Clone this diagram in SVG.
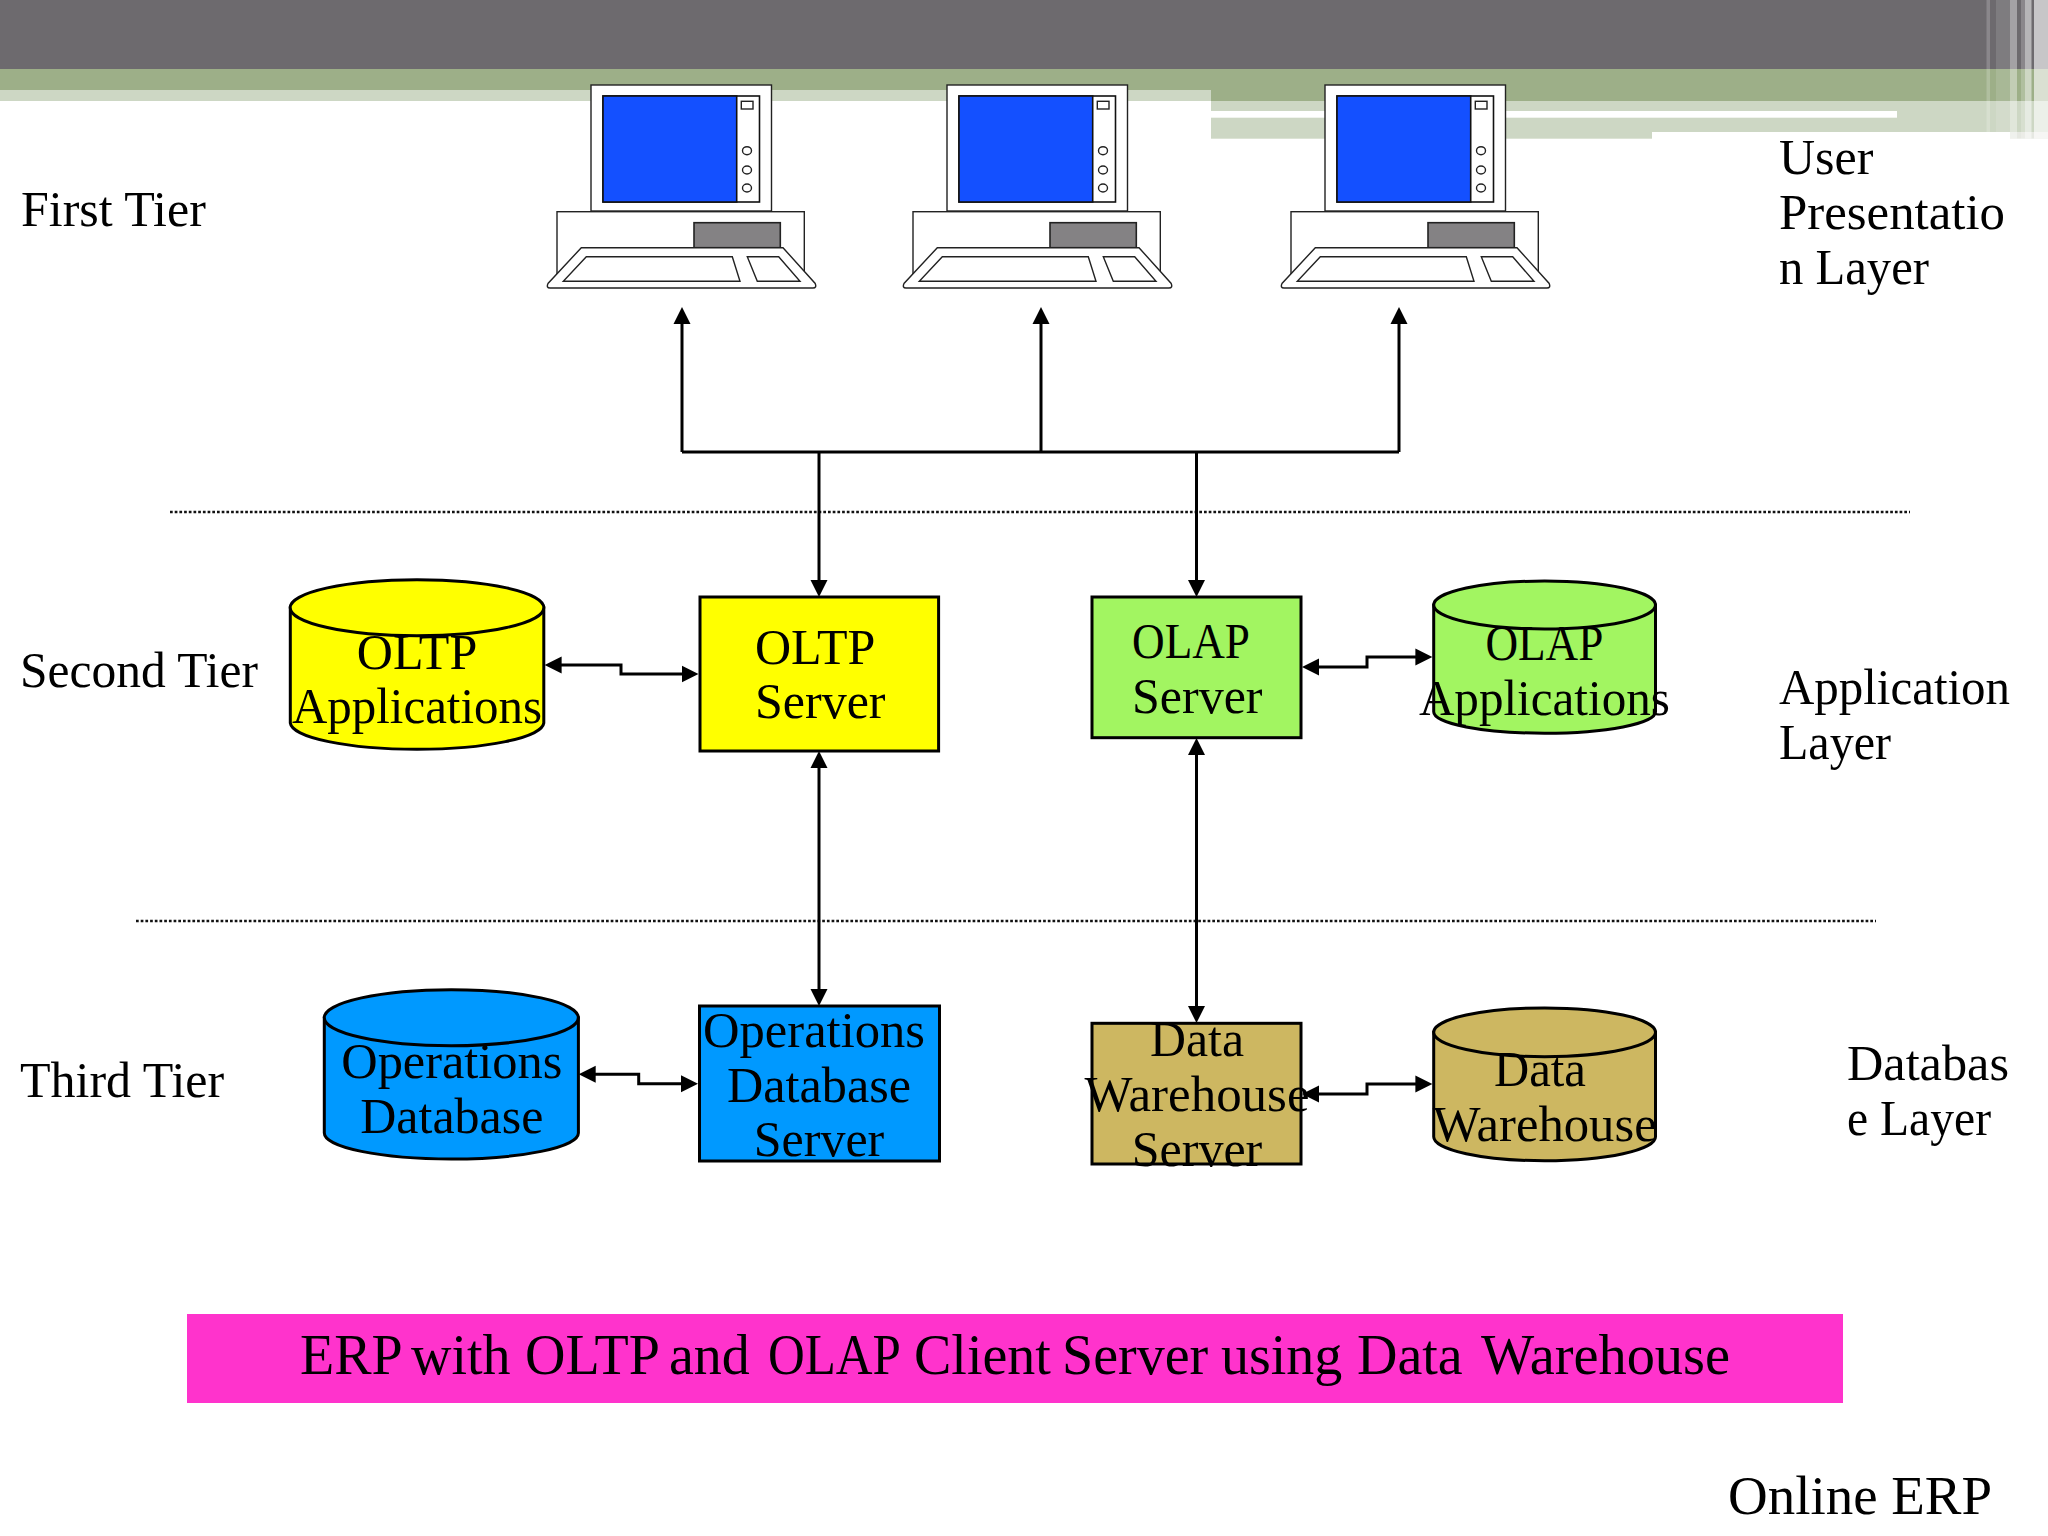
<svg xmlns="http://www.w3.org/2000/svg" xmlns:xlink="http://www.w3.org/1999/xlink" width="2048" height="1536" viewBox="0 0 2048 1536">
<style>
text{font-family:"Liberation Serif","Times New Roman",serif;font-size:50px;fill:#000}
.c{text-anchor:middle}
.box,.cyl{stroke:#000;stroke-width:3}
.pc{fill:#fff;stroke:#222;stroke-width:1.4}
.conn{fill:none;stroke:#000;stroke-width:3;marker-end:url(#ah)}
.two{marker-start:url(#ah)}
.plain{fill:none;stroke:#000;stroke-width:3}
.dots{stroke:#111;stroke-width:2.7;stroke-dasharray:2.7 2;fill:none}
.y{fill:#ffff00}.g{fill:#a2f561}.b{fill:#0099ff}.t{fill:#cdb761}
</style>
<defs>
<marker id="ah" markerUnits="userSpaceOnUse" markerWidth="18" markerHeight="18" refX="8" refY="9" orient="auto-start-reverse" viewBox="0 0 18 18"><path d="M0 0.5L17 9L0 17.5Z" fill="#000"/></marker>
<g id="computer">
<rect class="pc" x="0" y="0" width="180.5" height="126"/>
<rect x="12" y="11" width="156.5" height="106" fill="#fff" stroke="#111" stroke-width="1.6"/>
<rect x="12" y="11" width="133.7" height="106" fill="#1450ff" stroke="#111" stroke-width="1.6"/>
<rect class="pc" x="150.3" y="16.3" width="11.7" height="7.7"/>
<ellipse class="pc" cx="156" cy="65.7" rx="4.5" ry="4"/>
<ellipse class="pc" cx="156" cy="85" rx="4.5" ry="4"/>
<ellipse class="pc" cx="156" cy="103" rx="4.5" ry="4"/>
<rect class="pc" x="-34" y="126.7" width="247.3" height="62"/>
<rect x="103" y="137.7" width="86.3" height="25" fill="#848284" stroke="#222" stroke-width="1.6"/>
<path class="pc" d="M-9.7 162.7H192L224.2 198.5Q226 203 222 203H-41Q-45 203 -43 198.5Z"/>
<path class="pc" d="M-4.7 171.7H141.3L149 196.3H-27.7Z"/>
<path class="pc" d="M156.3 171.7H187.7L209 196.3H166.3Z"/>
</g>
</defs>
<rect width="2048" height="1536" fill="#fff"/>
<g id="header">
<rect width="2048" height="69" fill="#6d6a6e"/>
<rect y="69" width="2048" height="32" fill="#9daf88"/>
<rect y="90" width="1211" height="11" fill="#cdd7c4"/>
<rect x="1211" y="101" width="837" height="10" fill="#cdd7c4"/>
<rect x="1897" y="111" width="151" height="21" fill="#cdd7c4"/>
<rect x="1211" y="117.7" width="686" height="14.3" fill="#cdd7c4"/>
<rect x="1211" y="132" width="441" height="6.7" fill="#cdd7c4"/>
<rect x="2010" y="132" width="38" height="6.7" fill="#e6e8e2"/>
<g fill="#fff">
<rect x="1986.5" width="3.5" height="138.7" opacity=".2"/>
<rect x="1996" width="14" height="138.7" opacity=".12"/>
<rect x="2010" width="7" height="138.7" opacity=".38"/>
<rect x="2021" width="4" height="138.7" opacity=".2"/>
<rect x="2025" width="6.5" height="138.7" opacity=".5"/>
<rect x="2034" width="14" height="138.7" opacity=".62"/>
</g>
</g>
<g id="computer-1"><use href="#computer" xlink:href="#computer" x="591" y="85"/></g>
<g id="computer-2"><use href="#computer" xlink:href="#computer" x="947" y="85"/></g>
<g id="computer-3"><use href="#computer" xlink:href="#computer" x="1325" y="85"/></g>
<g id="tier-labels">
<text x="21" y="226">First Tier</text>
<text x="20" y="687" textLength="238" lengthAdjust="spacingAndGlyphs">Second Tier</text>
<text x="20" y="1097">Third Tier</text>
<text><tspan x="1779" y="174">User</tspan><tspan x="1779" y="229" textLength="226" lengthAdjust="spacingAndGlyphs">Presentatio</tspan><tspan x="1779" y="284" textLength="150" lengthAdjust="spacingAndGlyphs">n Layer</tspan></text>
<text><tspan x="1779" y="704" textLength="231" lengthAdjust="spacingAndGlyphs">Application</tspan><tspan x="1779" y="759" textLength="112" lengthAdjust="spacingAndGlyphs">Layer</tspan></text>
<text><tspan x="1847" y="1080" textLength="162" lengthAdjust="spacingAndGlyphs">Databas</tspan><tspan x="1847" y="1135" textLength="144" lengthAdjust="spacingAndGlyphs">e Layer</tspan></text>
</g>
<g id="dividers">
<path class="dots" d="M170 512H1910"/>
<path class="dots" d="M136 921H1876"/>
</g>
<g id="oltp-applications">
<path class="cyl y" d="M290.3 607.7V723A126.8 27 0 0 0 543.8 723V607.7Z"/>
<ellipse class="cyl y" cx="417" cy="607.7" rx="126.8" ry="28"/>
<text class="c"><tspan x="417" y="669">OLTP</tspan><tspan x="417" y="723" textLength="250" lengthAdjust="spacingAndGlyphs">Applications</tspan></text>
</g>
<g id="oltp-server">
<rect class="box y" x="700" y="597" width="238.6" height="154"/>
<text><tspan x="755" y="664">OLTP</tspan><tspan x="755" y="718">Server</tspan></text>
</g>
<g id="olap-server">
<rect class="box g" x="1092" y="597" width="209" height="140.7"/>
<text><tspan x="1132" y="658" textLength="118" lengthAdjust="spacingAndGlyphs">OLAP</tspan><tspan x="1132" y="713">Server</tspan></text>
</g>
<g id="olap-applications">
<path class="cyl g" d="M1433.7 605V711.7A110.9 21.5 0 0 0 1655.5 711.7V605Z"/>
<ellipse class="cyl g" cx="1544.6" cy="605" rx="110.9" ry="24"/>
<text class="c"><tspan x="1544.4" y="660" textLength="118" lengthAdjust="spacingAndGlyphs">OLAP</tspan><tspan x="1544.4" y="715" textLength="251" lengthAdjust="spacingAndGlyphs">Applications</tspan></text>
</g>
<g id="operations-database">
<path class="cyl b" d="M324.3 1017.7V1133A127 26 0 0 0 578.4 1133V1017.7Z"/>
<ellipse class="cyl b" cx="451.3" cy="1017.7" rx="127" ry="28"/>
<text class="c"><tspan x="451.8" y="1078" textLength="221" lengthAdjust="spacingAndGlyphs">Operations</tspan><tspan x="451.8" y="1133" textLength="183" lengthAdjust="spacingAndGlyphs">Database</tspan></text>
</g>
<g id="operations-database-server">
<rect class="box b" x="699.5" y="1006" width="240" height="155"/>
<text class="c"><tspan x="814" y="1047" textLength="222" lengthAdjust="spacingAndGlyphs">Operations</tspan><tspan x="819" y="1102" textLength="184" lengthAdjust="spacingAndGlyphs">Database</tspan><tspan x="819" y="1156">Server</tspan></text>
</g>
<g id="data-warehouse-server">
<rect class="box t" x="1092" y="1023.3" width="209" height="140.7"/>
<text class="c"><tspan x="1197" y="1056" textLength="94" lengthAdjust="spacingAndGlyphs">Data</tspan><tspan x="1197" y="1111" textLength="225" lengthAdjust="spacingAndGlyphs">Warehouse</tspan><tspan x="1197" y="1166">Server</tspan></text>
</g>
<g id="data-warehouse">
<path class="cyl t" d="M1433.7 1032.3V1136.7A110.9 24 0 0 0 1655.5 1136.7V1032.3Z"/>
<ellipse class="cyl t" cx="1544.6" cy="1032.3" rx="110.9" ry="24.4"/>
<text class="c"><tspan x="1540" y="1086" textLength="92" lengthAdjust="spacingAndGlyphs">Data</tspan><tspan x="1544.7" y="1141" textLength="224" lengthAdjust="spacingAndGlyphs">Warehouse</tspan></text>
</g>
<g id="connectors">
<path class="plain" d="M682 452H1399"/>
<path class="conn" d="M682 452V316"/>
<path class="conn" d="M1041 452V316"/>
<path class="conn" d="M1399 452V316"/>
<path class="conn" d="M819 452V588"/>
<path class="conn" d="M1196.5 452V588"/>
<path class="conn two" d="M819 760V997"/>
<path class="conn two" d="M1196.5 747V1014"/>
<path class="conn two" d="M553.6 665H621V674H689.5"/>
<path class="conn two" d="M1311 667H1367V657H1423.4"/>
<path class="conn two" d="M587.7 1074.3H638.7V1083.7H689"/>
<path class="conn two" d="M1311 1094H1367V1084H1423.4"/>
</g>
<g id="title-banner">
<rect x="187" y="1314" width="1656" height="89" fill="#ff33cc"/>
<text y="1374" style="font-size:56px"><tspan x="300">ERP</tspan> <tspan x="411">with</tspan> <tspan x="525">OLTP</tspan> <tspan x="669">and</tspan> <tspan x="768" textLength="131" lengthAdjust="spacingAndGlyphs">OLAP</tspan> <tspan x="914">Client</tspan> <tspan x="1062">Server</tspan> <tspan x="1221">using</tspan> <tspan x="1357">Data</tspan> <tspan x="1481" textLength="249" lengthAdjust="spacingAndGlyphs">Warehouse</tspan></text>
</g>
<g id="footer"><text x="1728" y="1514" textLength="264" lengthAdjust="spacingAndGlyphs" style="font-size:55px">Online ERP</text></g>
</svg>
